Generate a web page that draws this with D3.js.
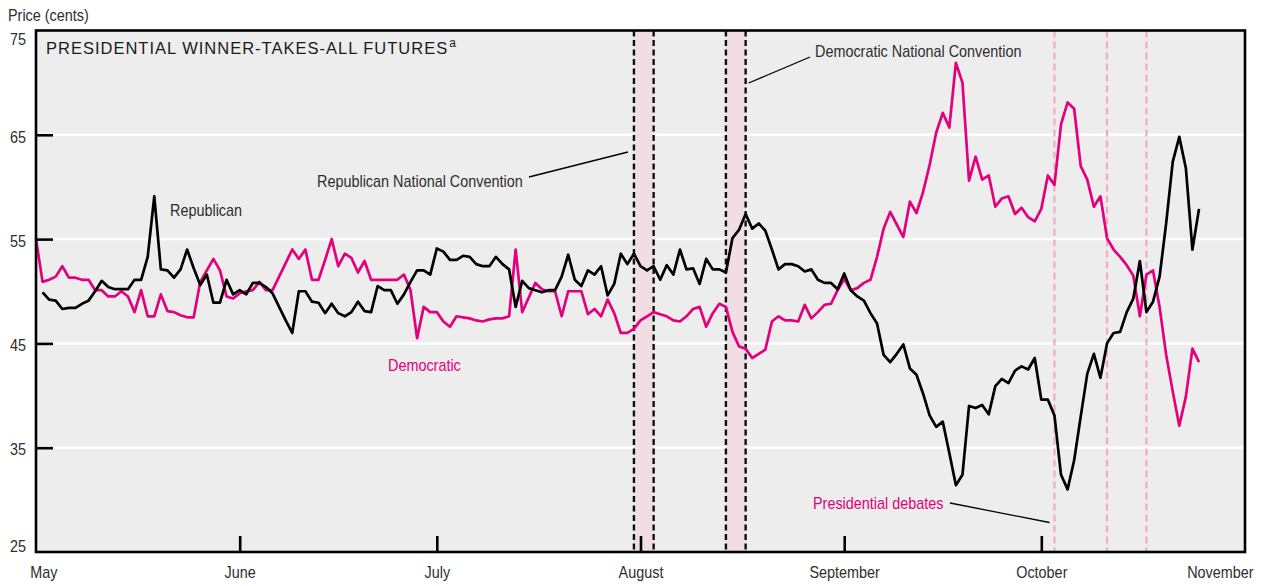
<!DOCTYPE html>
<html><head><meta charset="utf-8">
<script src="https://cdn.jsdelivr.net/npm/d3@7"></script>
<style>
body{margin:0;background:#fff;}
svg text{font-family:"Liberation Sans",Arial,Helvetica,sans-serif;}
</style></head><body>
<svg id="c" width="1261" height="586"></svg>
<script>
// ---- data ----
const startDate = "2000-05-01";
const endDate = "2000-11-01";
const monthLabels = ["May","June","July","August","September","October","November"];
const yTickValues = [25,35,45,55,65,75];
// daily prices (cents) starting May 1, 2000
const demPrices = [55.0,50.9,51.1,51.4,52.4,51.3,51.3,51.1,51.1,50.1,
50.1,49.5,49.5,50.0,49.5,48.0,50.1,47.6,47.6,49.7,
48.1,48.0,47.7,47.5,47.5,50.9,52.0,53.1,52.0,49.5,
49.3,49.8,50.0,50.1,50.9,50.1,50.1,51.4,52.7,54.0,
53.1,54.0,51.1,51.1,53.0,55.0,52.4,53.6,53.2,51.8,
52.9,51.1,51.1,51.1,51.1,51.1,51.6,50.1,45.5,48.5,
48.0,48.0,47.1,46.6,47.6,47.5,47.4,47.2,47.1,47.3,
47.4,47.4,47.6,54.0,48.0,49.4,50.8,50.2,50.0,50.0,
47.6,50.0,50.0,50.0,47.8,48.3,47.6,49.2,47.9,46.0,
46.0,46.4,47.2,47.6,48.0,47.8,47.6,47.2,47.1,47.6,
48.3,48.5,46.6,47.9,48.8,48.5,46.1,44.7,44.5,43.6,
44.0,44.4,47.1,47.6,47.2,47.2,47.1,48.7,47.4,48.0,
48.7,48.8,50.1,51.2,50.1,50.3,50.8,51.1,53.3,56.0,
57.6,56.4,55.2,58.6,57.5,59.5,62.1,65.2,67.1,65.7,
71.9,70.0,60.6,62.9,60.7,61.1,58.1,58.9,59.1,57.4,
58.0,57.1,56.7,57.9,61.1,60.2,66.0,68.1,67.5,62.0,
60.7,58.1,59.1,55.1,54.0,53.3,52.5,51.5,47.6,51.6,
52.0,48.5,43.9,40.4,37.1,39.9,44.5,43.2];
const repPrices = [null,49.9,49.2,49.1,48.3,48.4,48.4,48.8,49.1,50.0,
51.0,50.4,50.2,50.2,50.2,51.1,51.1,53.3,59.1,52.1,
52.0,51.3,52.1,54.0,52.2,50.6,51.6,48.9,48.9,51.1,
49.7,50.1,49.7,50.8,50.8,50.4,49.8,48.5,47.2,46.0,
50.0,50.0,49.0,48.9,47.9,48.8,47.9,47.6,48.0,49.0,
48.1,48.0,50.5,50.1,50.1,48.8,49.7,50.9,52.0,52.0,
51.6,54.1,53.8,53.0,53.0,53.4,53.3,52.6,52.4,52.4,
53.3,52.6,52.1,48.5,51.0,50.3,50.1,49.9,50.1,50.1,
51.4,53.5,51.1,50.5,52.0,51.6,52.4,49.6,50.7,53.6,
52.6,53.6,52.4,52.0,52.4,51.1,52.5,51.6,54.0,52.1,
52.2,50.7,53.1,52.1,52.1,51.8,55.1,55.9,57.4,56.0,
56.5,55.8,54.0,52.1,52.6,52.6,52.4,51.9,52.1,51.1,
50.8,50.8,50.2,51.7,50.1,49.5,49.1,47.9,46.9,43.9,
43.2,44.0,44.9,42.6,42.0,40.2,38.1,37.0,37.5,34.5,
31.4,32.4,39.0,38.8,39.1,38.2,40.9,41.6,41.2,42.4,
42.8,42.5,43.6,39.6,39.6,38.1,32.4,31.0,33.8,38.0,
42.1,44.0,41.7,45.0,46.0,46.1,48.0,49.3,52.9,48.0,
49.0,51.4,56.5,62.4,64.8,61.8,54.0,57.9];
const conventionNames = ["Republican National Convention","Democratic National Convention"];
const conventionStarts = ["2000-07-31","2000-08-14"];
const conventionEnds = ["2000-08-03","2000-08-17"];
const debateDates = ["2000-10-03","2000-10-11","2000-10-17"];

// ---- drawing ----
const parse = d3.utcParse("%Y-%m-%d");
const t0 = parse(startDate), t1 = parse(endDate);
const dayMs = 864e5;
const PINK = "#e4007c", INK = "#2e2e2e";
const NARROW = 0.9;
const L = 36, R = 1245, T = 30.5, B = 552;
const svg = d3.select("#c");
const x = d3.scaleUtc().domain([t0, t1]).range([L, R]);
const y = d3.scaleLinear().domain([25, 75]).range([B, T]);
const dayDate = i => new Date(+t0 + i * dayMs);

// narrow text helper
function label(px, py, str, color, anchor) {
  return svg.append("text").attr("transform", `translate(${px},${py}) scale(${NARROW},1)`)
    .attr("font-size", 16).attr("fill", color).attr("text-anchor", anchor || "start").text(str);
}

// background
svg.append("rect").attr("x", L).attr("y", T).attr("width", R - L).attr("height", B - T).attr("fill", "#ededed");

// gridlines
svg.append("g").selectAll("line").data(yTickValues.filter(v => v > 25 && v < 75)).join("line")
  .attr("x1", L).attr("x2", R).attr("y1", d => y(d)).attr("y2", d => y(d))
  .attr("stroke", "#fff").attr("stroke-width", 2.5);

// convention bands
conventionStarts.forEach((s, i) => {
  const xs = x(parse(s)), xe = x(parse(conventionEnds[i]));
  svg.append("rect").attr("x", xs).attr("y", T).attr("width", xe - xs).attr("height", B - T).attr("fill", "#f0dee4");
  [xs, xe].forEach(xx => svg.append("line").attr("x1", xx).attr("x2", xx).attr("y1", T).attr("y2", B)
    .attr("stroke", "#111").attr("stroke-width", 2.4).attr("stroke-dasharray", "6,3.5"));
});

// debates
svg.append("g").selectAll("line").data(debateDates).join("line")
  .attr("x1", d => x(parse(d))).attr("x2", d => x(parse(d))).attr("y1", T).attr("y2", B)
  .attr("stroke", "#f6a9c6").attr("stroke-width", 2.2).attr("stroke-dasharray", "7,4");

// lines
const line = d3.line().defined(d => d != null).x((d, i) => x(dayDate(i))).y(d => y(d));
svg.append("path").datum(demPrices).attr("d", line).attr("fill", "none").attr("stroke", PINK).attr("stroke-width", 2.7).attr("stroke-linejoin", "round");
svg.append("path").datum(repPrices).attr("d", line).attr("fill", "none").attr("stroke", "#000").attr("stroke-width", 2.7).attr("stroke-linejoin", "round");

// frame
svg.append("rect").attr("x", L).attr("y", T).attr("width", R - L).attr("height", B - T)
  .attr("fill", "none").attr("stroke", "#000").attr("stroke-width", 2.6);

// y axis ticks and labels
const yAxis = d3.axisLeft(y).tickValues(yTickValues).tickSize(-17).tickPadding(11).tickFormat(d3.format("d"));
const gy = svg.append("g").attr("transform", `translate(${L},0)`).call(yAxis);
gy.select(".domain").remove();
gy.selectAll(".tick line").attr("stroke", "#000").attr("stroke-width", 2.6)
  .attr("display", d => (d === 25 || d === 75) ? "none" : null);
gy.selectAll(".tick text").attr("fill", INK).attr("font-size", 16).attr("x", -11)
  .attr("transform", `scale(${NARROW},1)`)
  .attr("dy", d => d === 75 ? "0.85em" : d === 25 ? "-0.05em" : "0.45em");

// x axis
const monthDates = d3.utcMonth.range(t0, d3.utcMonth.offset(t1, 1));
const xAxis = d3.axisBottom(x).tickValues(monthDates).tickSize(-16).tickPadding(15)
  .tickFormat((d, i) => monthLabels[i]);
const gx = svg.append("g").attr("transform", `translate(0,${B})`).call(xAxis);
gx.select(".domain").remove();
gx.selectAll(".tick line").attr("stroke", "#000").attr("stroke-width", 2.6)
  .attr("display", (d, i) => (i === 0 || i === monthDates.length - 1) ? "none" : null);
gx.selectAll(".tick text").attr("fill", INK).attr("font-size", 16)
  .attr("transform", `scale(${NARROW},1)`)
  .attr("text-anchor", (d, i) => i === 0 ? "start" : i === monthDates.length - 1 ? "end" : "middle")
  .attr("x", (d, i) => i === 0 ? -7 : i === monthDates.length - 1 ? 9 : 0);

// labels
label(8, 21, "Price (cents)", INK);
const title = svg.append("text").attr("x", 46).attr("y", 54).attr("font-size", 16.5).attr("fill", "#1a1a1a")
  .attr("letter-spacing", 1.0);
title.append("tspan").text("PRESIDENTIAL WINNER-TAKES-ALL FUTURES");
title.append("tspan").attr("font-size", 12).attr("dy", -7).attr("dx", 1).text("a");

label(170, 216, "Republican", INK);
label(388, 371, "Democratic", PINK);

// convention annotations
const xR = x(parse(conventionStarts[0])), xD = x(parse(conventionEnds[1]));
label(317, 187, conventionNames[0], INK);
svg.append("line").attr("x1", 529).attr("y1", 177).attr("x2", xR - 6).attr("y2", 152).attr("stroke", "#000").attr("stroke-width", 1.3);
label(815, 57, conventionNames[1], INK);
svg.append("line").attr("x1", 810).attr("y1", 57).attr("x2", xD + 3).attr("y2", 83).attr("stroke", "#000").attr("stroke-width", 1.3);

// debates annotation
const xDeb = x(parse(debateDates[0]));
label(813, 509, "Presidential debates", PINK);
svg.append("line").attr("x1", 950).attr("y1", 503).attr("x2", xDeb - 5).attr("y2", 522.5).attr("stroke", "#000").attr("stroke-width", 1.3);
</script>
</body></html>
